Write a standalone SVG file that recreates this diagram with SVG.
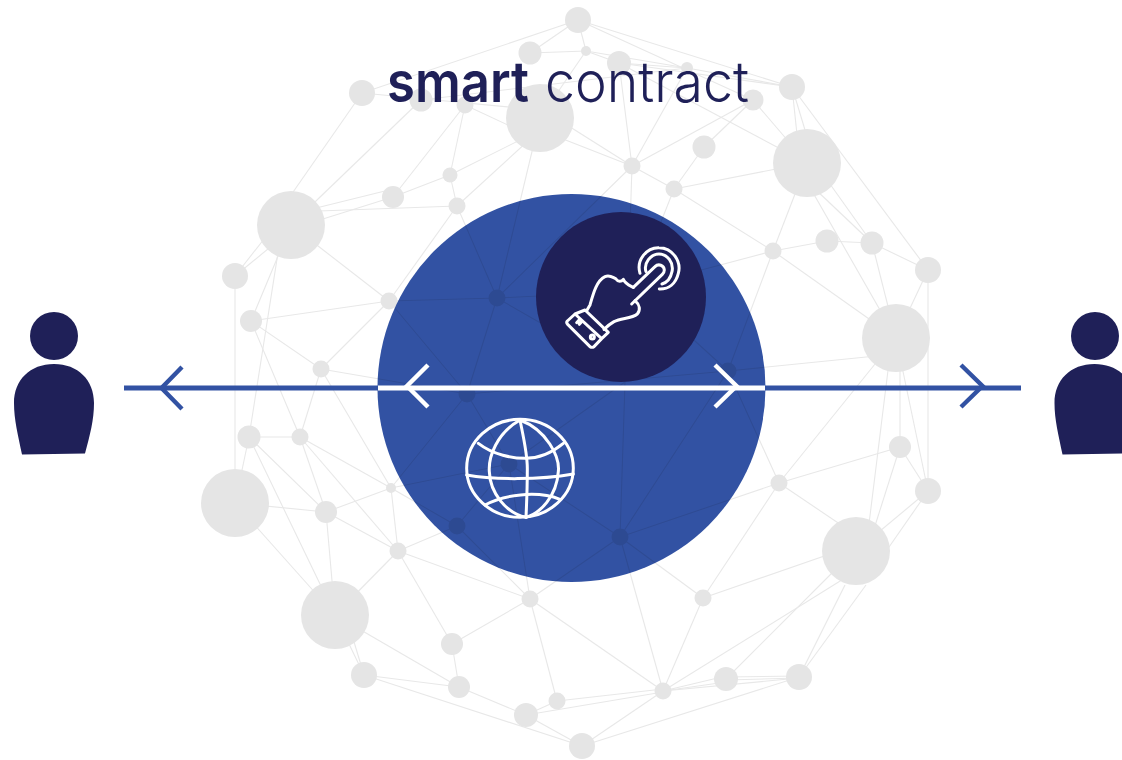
<svg xmlns="http://www.w3.org/2000/svg" width="1122" height="760" viewBox="0 0 1122 760">
<style>
#connectors line{stroke:#e8e8e8;stroke-width:1.1;fill:none}
.n{fill:#e5e5e5}
.navy{fill:#1f2058}
.disc{fill:#3252a3;mix-blend-mode:multiply}
.ic{fill:none;stroke:#fff;stroke-linecap:round;stroke-linejoin:round}
.bar{fill:none;stroke:#3252a3;stroke-width:5}
.chev{fill:none;stroke-width:4.4}
.wh{fill:none;stroke:#fff}
text{fill:#1f2058;font-family:"Inter","Liberation Sans",sans-serif;font-size:56px}
</style>
<rect width="1122" height="760" fill="#fff"/>
<g id="connectors">
<line x1="578" y1="20" x2="362" y2="93"/><line x1="578" y1="20" x2="530" y2="53"/><line x1="530" y1="53" x2="586" y2="51"/>
<line x1="362" y1="93" x2="540" y2="110"/><line x1="421" y1="100" x2="687" y2="68"/><line x1="362" y1="93" x2="291" y2="195"/>
<line x1="421" y1="100" x2="291" y2="225"/><line x1="465" y1="105" x2="393" y2="197"/><line x1="465" y1="105" x2="450" y2="175"/>
<line x1="465" y1="105" x2="540" y2="140"/><line x1="540" y1="130" x2="450" y2="175"/><line x1="540" y1="130" x2="457" y2="206"/>
<line x1="540" y1="118" x2="497" y2="298"/><line x1="393" y1="197" x2="450" y2="175"/><line x1="393" y1="189" x2="300" y2="212"/>
<line x1="393" y1="197" x2="291" y2="229"/><line x1="291" y1="212" x2="457" y2="206"/><line x1="450" y1="175" x2="457" y2="206"/>
<line x1="457" y1="206" x2="389" y2="301"/><line x1="457" y1="206" x2="497" y2="298"/><line x1="275" y1="225" x2="235" y2="276"/>
<line x1="285" y1="235" x2="235" y2="276"/><line x1="291" y1="225" x2="251" y2="321"/><line x1="280" y1="240" x2="249" y2="437"/>
<line x1="291" y1="225" x2="389" y2="301"/><line x1="235" y1="276" x2="235" y2="503"/><line x1="251" y1="321" x2="389" y2="301"/>
<line x1="251" y1="321" x2="321" y2="369"/><line x1="251" y1="321" x2="300" y2="437"/><line x1="389" y1="301" x2="321" y2="369"/>
<line x1="321" y1="369" x2="300" y2="437"/><line x1="321" y1="369" x2="467" y2="394"/><line x1="389" y1="301" x2="467" y2="394"/>
<line x1="389" y1="301" x2="497" y2="298"/><line x1="497" y1="298" x2="467" y2="394"/><line x1="497" y1="298" x2="632" y2="166"/>
<line x1="497" y1="298" x2="621" y2="292"/><line x1="497" y1="298" x2="600" y2="357"/><line x1="640" y1="291" x2="728" y2="371"/>
<line x1="540" y1="108" x2="632" y2="166"/><line x1="540" y1="130" x2="632" y2="166"/><line x1="619" y1="63" x2="632" y2="166"/>
<line x1="578" y1="20" x2="792" y2="87"/><line x1="578" y1="20" x2="753" y2="100"/><line x1="578" y1="20" x2="586" y2="51"/>
<line x1="586" y1="51" x2="619" y2="63"/><line x1="586" y1="51" x2="687" y2="68"/><line x1="619" y1="63" x2="687" y2="68"/>
<line x1="619" y1="63" x2="792" y2="87"/><line x1="687" y1="68" x2="792" y2="87"/><line x1="586" y1="51" x2="540" y2="118"/>
<line x1="687" y1="68" x2="632" y2="166"/><line x1="753" y1="100" x2="632" y2="166"/><line x1="753" y1="100" x2="704" y2="147"/>
<line x1="704" y1="147" x2="674" y2="189"/><line x1="619" y1="63" x2="807" y2="163"/><line x1="753" y1="100" x2="807" y2="163"/>
<line x1="792" y1="87" x2="800" y2="163"/><line x1="792" y1="87" x2="815" y2="163"/><line x1="792" y1="87" x2="928" y2="270"/>
<line x1="632" y1="166" x2="674" y2="189"/><line x1="674" y1="189" x2="807" y2="163"/><line x1="674" y1="189" x2="773" y2="251"/>
<line x1="632" y1="166" x2="620" y2="537"/><line x1="674" y1="189" x2="640" y2="275"/><line x1="773" y1="251" x2="807" y2="163"/>
<line x1="773" y1="251" x2="827" y2="241"/><line x1="827" y1="241" x2="872" y2="243"/><line x1="773" y1="251" x2="896" y2="338"/>
<line x1="773" y1="251" x2="728" y2="371"/><line x1="773" y1="251" x2="690" y2="273"/><line x1="795" y1="170" x2="872" y2="243"/>
<line x1="815" y1="163" x2="872" y2="243"/><line x1="800" y1="170" x2="896" y2="338"/><line x1="872" y1="243" x2="896" y2="338"/>
<line x1="872" y1="243" x2="928" y2="270"/><line x1="928" y1="270" x2="896" y2="338"/><line x1="928" y1="270" x2="928" y2="491"/>
<line x1="896" y1="354" x2="728" y2="371"/><line x1="896" y1="338" x2="779" y2="483"/><line x1="900" y1="338" x2="900" y2="447"/>
<line x1="896" y1="338" x2="928" y2="491"/><line x1="892" y1="338" x2="867" y2="540"/><line x1="900" y1="447" x2="867" y2="551"/>
<line x1="900" y1="447" x2="928" y2="491"/><line x1="928" y1="491" x2="856" y2="551"/><line x1="928" y1="491" x2="880" y2="560"/>
<line x1="900" y1="447" x2="779" y2="483"/><line x1="779" y1="483" x2="856" y2="535"/><line x1="779" y1="483" x2="703" y2="598"/>
<line x1="779" y1="483" x2="620" y2="537"/><line x1="728" y1="371" x2="779" y2="483"/><line x1="620" y1="537" x2="728" y2="371"/>
<line x1="620" y1="537" x2="703" y2="598"/><line x1="620" y1="537" x2="663" y2="691"/><line x1="703" y1="598" x2="856" y2="545"/>
<line x1="703" y1="598" x2="663" y2="691"/><line x1="663" y1="691" x2="845" y2="578"/><line x1="726" y1="679" x2="835" y2="570"/>
<line x1="799" y1="677" x2="845" y2="585"/><line x1="799" y1="677" x2="866" y2="585"/><line x1="663" y1="691" x2="726" y2="676"/>
<line x1="663" y1="691" x2="726" y2="682"/><line x1="726" y1="677" x2="799" y2="676"/><line x1="726" y1="680" x2="799" y2="678"/>
<line x1="663" y1="691" x2="799" y2="678"/><line x1="799" y1="677" x2="582" y2="746"/><line x1="663" y1="691" x2="582" y2="746"/>
<line x1="530" y1="599" x2="663" y2="691"/><line x1="557" y1="701" x2="663" y2="689"/><line x1="526" y1="715" x2="663" y2="692"/>
<line x1="530" y1="599" x2="557" y2="701"/><line x1="530" y1="599" x2="452" y2="644"/><line x1="398" y1="551" x2="530" y2="599"/>
<line x1="457" y1="526" x2="530" y2="599"/><line x1="530" y1="599" x2="620" y2="537"/><line x1="509" y1="464" x2="530" y2="599"/>
<line x1="398" y1="551" x2="457" y2="526"/><line x1="398" y1="551" x2="452" y2="644"/><line x1="398" y1="551" x2="391" y2="488"/>
<line x1="326" y1="512" x2="398" y2="551"/><line x1="398" y1="551" x2="335" y2="615"/><line x1="300" y1="437" x2="398" y2="551"/>
<line x1="249" y1="437" x2="326" y2="512"/><line x1="300" y1="437" x2="326" y2="512"/><line x1="235" y1="503" x2="326" y2="512"/>
<line x1="326" y1="512" x2="391" y2="488"/><line x1="326" y1="512" x2="335" y2="615"/><line x1="249" y1="437" x2="300" y2="437"/>
<line x1="249" y1="437" x2="335" y2="615"/><line x1="249" y1="437" x2="235" y2="503"/><line x1="321" y1="369" x2="391" y2="488"/>
<line x1="300" y1="437" x2="391" y2="488"/><line x1="391" y1="488" x2="509" y2="464"/><line x1="391" y1="488" x2="457" y2="526"/>
<line x1="391" y1="488" x2="467" y2="394"/><line x1="467" y1="394" x2="509" y2="464"/><line x1="457" y1="526" x2="509" y2="464"/>
<line x1="509" y1="464" x2="620" y2="537"/><line x1="509" y1="464" x2="625" y2="382"/><line x1="235" y1="503" x2="335" y2="615"/>
<line x1="335" y1="615" x2="459" y2="687"/><line x1="335" y1="615" x2="364" y2="675"/><line x1="345" y1="612" x2="364" y2="675"/>
<line x1="452" y1="644" x2="459" y2="687"/><line x1="364" y1="675" x2="459" y2="687"/><line x1="364" y1="675" x2="582" y2="746"/>
<line x1="459" y1="687" x2="526" y2="715"/><line x1="526" y1="715" x2="582" y2="746"/><line x1="526" y1="715" x2="557" y2="701"/>
<line x1="467" y1="394" x2="728" y2="371"/>
</g>
<g id="n-a"><circle class="n" cx="578" cy="20" r="13"/></g>
<g id="n-b"><circle class="n" cx="530" cy="53" r="11.5"/></g>
<g id="n-c"><circle class="n" cx="586" cy="51" r="5"/></g>
<g id="n-d"><circle class="n" cx="619" cy="63" r="12"/></g>
<g id="n-e"><circle class="n" cx="687" cy="68" r="6"/></g>
<g id="n-f"><circle class="n" cx="792" cy="87" r="13"/></g>
<g id="n-g"><circle class="n" cx="753" cy="100" r="10.5"/></g>
<g id="n-h"><circle class="n" cx="362" cy="93" r="13"/></g>
<g id="n-i"><circle class="n" cx="421" cy="100" r="11.5"/></g>
<g id="n-j"><circle class="n" cx="465" cy="105" r="8.5"/></g>
<g id="n-k"><circle class="n" cx="540" cy="118" r="34"/></g>
<g id="n-l"><circle class="n" cx="632" cy="166" r="8.5"/></g>
<g id="n-m"><circle class="n" cx="704" cy="147" r="11.5"/></g>
<g id="n-n"><circle class="n" cx="674" cy="189" r="8.5"/></g>
<g id="n-o"><circle class="n" cx="807" cy="163" r="34"/></g>
<g id="n-p"><circle class="n" cx="450" cy="175" r="7.5"/></g>
<g id="n-q"><circle class="n" cx="393" cy="197" r="11"/></g>
<g id="n-r"><circle class="n" cx="457" cy="206" r="8.5"/></g>
<g id="n-s"><circle class="n" cx="291" cy="225" r="34"/></g>
<g id="n-t"><circle class="n" cx="235" cy="276" r="13"/></g>
<g id="n-u"><circle class="n" cx="251" cy="321" r="11"/></g>
<g id="n-v"><circle class="n" cx="389" cy="301" r="8.5"/></g>
<g id="n-w"><circle class="n" cx="497" cy="298" r="8.5"/></g>
<g id="n-x"><circle class="n" cx="773" cy="251" r="8.5"/></g>
<g id="n-y"><circle class="n" cx="827" cy="241" r="11.5"/></g>
<g id="n-z"><circle class="n" cx="872" cy="243" r="11.5"/></g>
<g id="n-aa"><circle class="n" cx="928" cy="270" r="13"/></g>
<g id="n-ab"><circle class="n" cx="896" cy="338" r="34"/></g>
<g id="n-ac"><circle class="n" cx="321" cy="369" r="8.5"/></g>
<g id="n-ad"><circle class="n" cx="467" cy="394" r="8.5"/></g>
<g id="n-ae"><circle class="n" cx="728" cy="371" r="8.5"/></g>
<g id="n-af"><circle class="n" cx="249" cy="437" r="11.5"/></g>
<g id="n-ag"><circle class="n" cx="300" cy="437" r="8.5"/></g>
<g id="n-ah"><circle class="n" cx="235" cy="503" r="34"/></g>
<g id="n-ai"><circle class="n" cx="326" cy="512" r="11"/></g>
<g id="n-aj"><circle class="n" cx="391" cy="488" r="5"/></g>
<g id="n-ak"><circle class="n" cx="509" cy="464" r="8.5"/></g>
<g id="n-al"><circle class="n" cx="457" cy="526" r="8.5"/></g>
<g id="n-am"><circle class="n" cx="398" cy="551" r="8.5"/></g>
<g id="n-an"><circle class="n" cx="620" cy="537" r="8.5"/></g>
<g id="n-ao"><circle class="n" cx="779" cy="483" r="8.5"/></g>
<g id="n-ap"><circle class="n" cx="900" cy="447" r="11"/></g>
<g id="n-aq"><circle class="n" cx="928" cy="491" r="13"/></g>
<g id="n-ar"><circle class="n" cx="856" cy="551" r="34"/></g>
<g id="n-as"><circle class="n" cx="530" cy="599" r="8.5"/></g>
<g id="n-at"><circle class="n" cx="703" cy="598" r="8.5"/></g>
<g id="n-au"><circle class="n" cx="335" cy="615" r="34"/></g>
<g id="n-av"><circle class="n" cx="452" cy="644" r="11"/></g>
<g id="n-aw"><circle class="n" cx="364" cy="675" r="13"/></g>
<g id="n-ax"><circle class="n" cx="459" cy="687" r="11"/></g>
<g id="n-ay"><circle class="n" cx="557" cy="701" r="8.5"/></g>
<g id="n-az"><circle class="n" cx="526" cy="715" r="12"/></g>
<g id="n-ba"><circle class="n" cx="582" cy="746" r="13"/></g>
<g id="n-bb"><circle class="n" cx="663" cy="691" r="8.5"/></g>
<g id="n-bc"><circle class="n" cx="726" cy="679" r="12"/></g>
<g id="n-bd"><circle class="n" cx="799" cy="677" r="13"/></g>
<g id="title"><text x="387" y="102" font-weight="600" textLength="142" lengthAdjust="spacingAndGlyphs">smart</text><text x="545" y="102" font-weight="300" textLength="204" lengthAdjust="spacingAndGlyphs">contract</text></g>
<g id="disc"><circle class="disc" cx="571.5" cy="388" r="194"/></g>
<g id="touch">
<circle class="navy" cx="621" cy="297" r="85"/>
<g transform="translate(540 210) scale(.3333)" class="ic" stroke-width="9">
<path d="M300 190C288 150 320 112 357 113C398 113 425 155 415 190C407 222 385 238 358 237"/>
<path d="M318 185C310 160 332 132 357 132C382 132 402 158 396 185C392 205 380 218 366 222"/>
<path d="M280 232L345 170C355 160 372 165 373 180C373 186 370 190 367 193L275 282"/>
<path d="M280 232C268 226 256 222 250 208C244 216 234 216 228 207C220 200 205 196 195 200C170 212 160 250 150 285L140 302"/>
<path d="M285 272C300 285 302 300 292 312C275 326 245 324 222 335C210 342 200 350 192 358"/>
<path d="M105 312L135 300L205 367L185 386M105 312L82 333Q78 338 83 343L150 410Q156 414 162 410L185 386ZM105 312L185 386"/>
<path d="M110 338L118 329M118 343L125 335"/>
<circle cx="157" cy="381" r="6"/>
</g>
</g>
<g id="globe" transform="translate(440 400) scale(.3333)" class="ic" stroke-width="9">
<ellipse cx="240" cy="205" rx="160" ry="147"/>
<path d="M240 60C250 110 262 160 262 205C262 260 260 310 258 352"/>
<path d="M240 60C170 100 145 170 148 215C150 280 200 340 258 352"/>
<path d="M240 60C320 90 360 170 355 215C350 290 300 340 258 352"/>
<path d="M115 130C160 165 220 175 255 175C300 175 340 155 370 130"/>
<path d="M80 225C160 240 300 240 400 222"/>
<path d="M135 315C190 285 290 270 360 298"/>
</g>
<g id="arrow-left"><path class="bar" d="M124 388H378"/><path class="bar chev" d="M182 367L161.500 388L182 409"/></g>
<g id="arrow-right"><path class="bar" d="M765 388H1021"/><path class="bar chev" d="M961 365L982.500 386L961 407"/></g>
<g id="arrow-white"><path class="wh" stroke-width="5" d="M378 388H765"/><path class="wh chev" d="M428 365L407 386L428 407"/><path class="wh chev" d="M715 365L736.500 386L715 407"/></g>
<g id="person-left"><circle class="navy" cx="54" cy="336" r="24"/><path class="navy" d="M22 454.500L85 453.500C90 435 94 420 94 403C94 380 78 364 54 364C30 364 14 380 14 403C14 420 18 435 22 454.500Z"/></g>
<g id="person-right"><circle class="navy" cx="1095" cy="336" r="24"/><path class="navy" d="M1062.500 454.500L1125.500 453.500C1130.500 435 1134.500 420 1134.500 403C1134.500 380 1118.500 364 1094.500 364C1070.500 364 1054.500 380 1054.500 403C1054.500 420 1058.500 435 1062.500 454.500Z"/></g>
</svg>
